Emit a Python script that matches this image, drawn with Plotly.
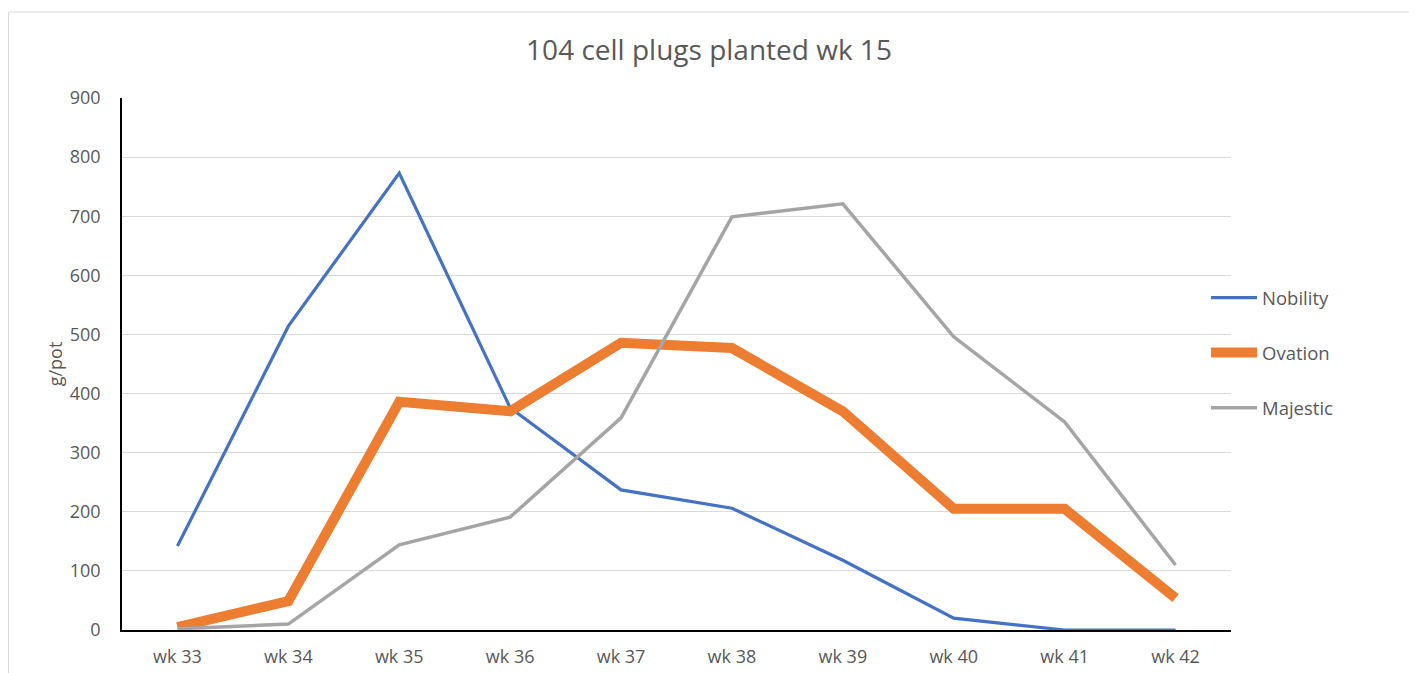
import plotly.graph_objects as go

weeks = ["wk 33", "wk 34", "wk 35", "wk 36", "wk 37", "wk 38", "wk 39", "wk 40", "wk 41", "wk 42"]
nobility = [142, 514, 773, 376, 237, 206, 118, 20, 0, 0]
ovation = [5, 49, 386, 370, 486, 477, 370, 205, 205, 54]
majestic = [2, 10, 144, 191, 359, 699, 721, 496, 352, 110]
y_ticks = [0, 100, 200, 300, 400, 500, 600, 700, 800, 900]

# page body has an 8px offset, so the figure is sized/positioned to compensate
OFF = 8
W, H = 1417 - OFF, 673 - OFF
L, T = 122 - OFF, 98 - OFF
R = W - (1231 - OFF)
B = H - (630 - OFF)
pw, ph = W - L - R, H - T - B

font = "Open Sans"
grey = "#595959"

fig = go.Figure()
fig.add_trace(go.Scatter(x=weeks, y=nobility, name="Nobility", mode="lines",
                         line=dict(color="#4472c4", width=3.2), legendgroup="a"))
fig.add_trace(go.Scatter(x=weeks, y=ovation, name="Ovation", mode="lines",
                         line=dict(color="#ed7d31", width=10), legendgroup="b"))
fig.add_trace(go.Scatter(x=weeks, y=majestic, name="Majestic", mode="lines",
                         line=dict(color="#a5a5a5", width=3.5), legendgroup="c"))

def px_x(x):
    return (x - OFF - L) / pw

def px_y(y):
    return (H - B - (y - OFF)) / ph

fig.add_shape(type="rect", xref="paper", yref="paper",
              x0=(0.5 - L) / pw, x1=px_x(1413), y0=px_y(700), y1=px_y(12),
              line=dict(color="#d9d9d9", width=1), fillcolor="rgba(0,0,0,0)", layer="below")

fig.update_layout(
    width=W, height=H,
    margin=dict(l=L, r=R, t=T, b=B, autoexpand=False),
    paper_bgcolor="white", plot_bgcolor="white",
    font=dict(family=font, color=grey, size=18),
    title=dict(text="104 cell plugs planted wk 15", x=px_x(709), xref="paper", xanchor="center",
               y=1 - (50 - OFF) / H, yanchor="middle", font=dict(size=28, color=grey, family=font)),
    showlegend=True,
    legend=dict(x=px_x(1206), y=px_y(279), xanchor="left", yanchor="top",
                tracegroupgap=28, itemwidth=46, font=dict(size=18.5, color=grey, family=font),
                bgcolor="rgba(0,0,0,0)"),
    xaxis=dict(type="category", showgrid=False, showline=True, linecolor="black", linewidth=1.5,
               ticks="", ticklabelstandoff=10, tickfont=dict(size=18, color=grey),
               range=[-0.5, len(weeks) - 0.5], fixedrange=True),
    yaxis=dict(range=[0, 900], tickvals=y_ticks, showgrid=True, gridcolor="#d9d9d9", gridwidth=1,
               showline=True, linecolor="black", linewidth=1.5, zeroline=False,
               ticks="", ticklabelstandoff=16, tickfont=dict(size=18, color=grey),
               title=dict(text="g/pot", font=dict(size=18, color=grey), standoff=2)),
)

fig.write_html("out.html")
